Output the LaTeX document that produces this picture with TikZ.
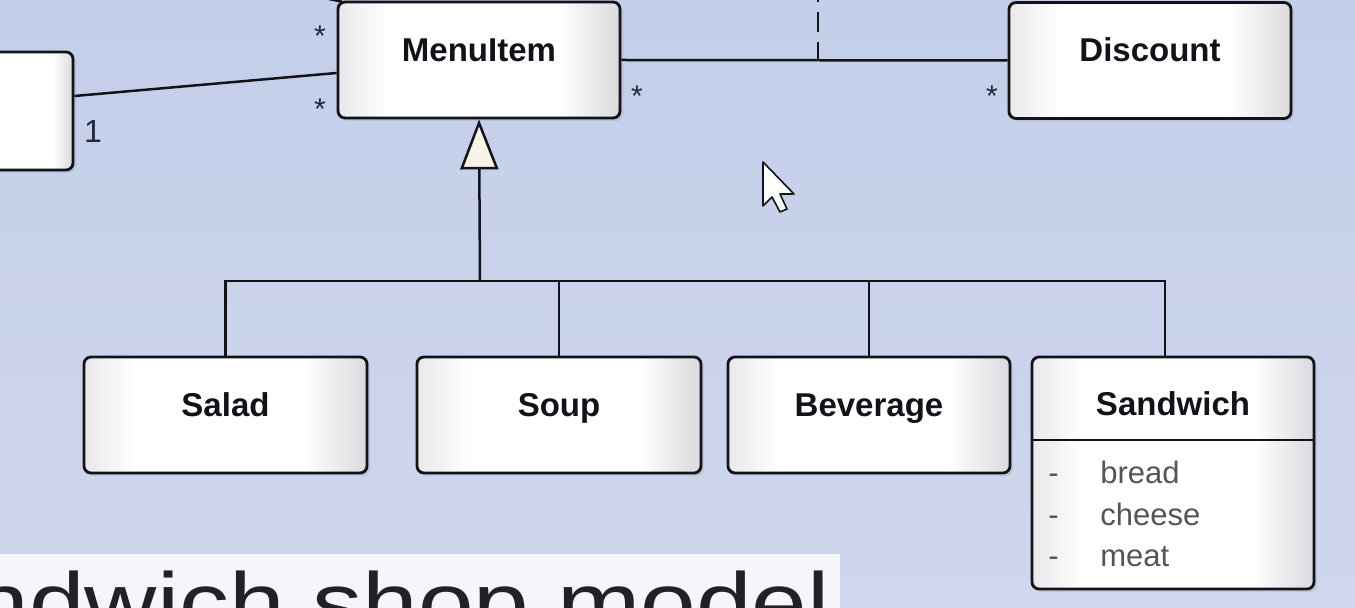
\documentclass[tikz,border=0pt]{standalone}
\usepackage{fontspec}
\setmainfont{Liberation Sans}
\usetikzlibrary{arrows.meta,shadows}
\definecolor{bgtop}{RGB}{195,206,233}
\definecolor{bgbot}{RGB}{207,215,236}
\definecolor{cream}{RGB}{250,243,232}
\definecolor{capbg}{RGB}{244,246,250}
\definecolor{capink}{RGB}{34,34,38}
\definecolor{ink}{RGB}{18,18,24}
\definecolor{mult}{RGB}{35,40,60}
\definecolor{attr}{RGB}{85,85,85}
\definecolor{boxl}{RGB}{232,232,234}
\definecolor{boxr}{RGB}{218,218,222}
\pgfdeclarehorizontalshading{boxshade}{100bp}{color(0bp)=(boxl); color(25bp)=(boxl); color(34bp)=(white); color(64bp)=(white); color(75bp)=(boxr); color(100bp)=(boxr)}
\begin{document}
\begin{tikzpicture}[x=0.5pt,y=-0.5pt,
  classbox/.style={draw=ink, line width=1.4pt, rounded corners=3.5pt,
    shading=boxshade,
    drop shadow={shadow xshift=1.5pt, shadow yshift=-1.5pt, opacity=0.18},
    minimum width=141pt, minimum height=58pt, inner sep=0pt,
    font=\fontsize{16.5}{20}\selectfont\bfseries, text=ink,
    text height=12pt, text depth=10.5pt},
  titletext/.style={font=\fontsize{16.5}{20}\selectfont\bfseries, text=ink, inner sep=0pt},
  attrtext/.style={font=\fontsize{15.5}{18}\selectfont, text=attr, inner sep=0pt},
  multtext/.style={font=\fontsize{15}{18}\selectfont, text=mult, inner sep=0pt, anchor=base},
  conn/.style={draw=ink, line width=1.25pt},
  dashconn/.style={draw=ink, line width=1.25pt, dash pattern=on 10pt off 5pt, dash phase=1pt}
]
\useasboundingbox (0,0) rectangle (1355,608);
\clip (0,0) rectangle (1355,608);
\shade[top color=bgtop, bottom color=bgbot] (0,0) rectangle (1355,608);

% classes
\node[classbox, minimum width=46.5pt, minimum height=59pt] (L) at (26.5,111) {};
\node[classbox] (mi) at (479,60) {MenuItem};
\node[classbox] (disc) at (1150,60.5) {Discount};
\node[classbox, minimum width=141.5pt] (salad) at (225.5,415) {Salad};
\node[classbox, minimum width=142pt] (soup) at (559,415) {Soup};
\node[classbox] (bev) at (869,415) {Beverage};
\node[classbox, minimum height=116pt] (snd) at (1173,473) {};
\node[titletext, anchor=base] (sndt) at (1173,416) {Sandwich};
\coordinate (divy) at (0,440);
\draw[draw=ink, line width=1.4pt] (snd.west |- divy) -- (snd.east |- divy);
\node[attrtext, anchor=base west] (d1) at (1048,484) {-};
\node[attrtext, anchor=base west] (d2) at (1048,526) {-};
\node[attrtext, anchor=base west] (d3) at (1048,567) {-};
\node[attrtext, anchor=base west] (a1) at (1100,484) {bread};
\node[attrtext, anchor=base west] (a2) at (1100,526) {cheese};
\node[attrtext, anchor=base west] (a3) at (1100,567) {meat};

% associations
\draw[conn] ([yshift=7.5pt]L.east) -- ([yshift=-6.5pt]mi.west);
\coordinate (tl) at (300,-7);
\draw[conn] (tl) -- ([xshift=2.5pt,yshift=-0.5pt]mi.north west);
\draw[conn] (mi.east) -- (disc.west);
\coordinate (amid) at (818,60);
\coordinate (dtop) at (818,-12);
\draw[dashconn] (amid) -- (dtop);

% multiplicities
\node[multtext] (m1) at (320,47) {*};
\node[multtext] (m2) at (320,120) {*};
\node[multtext] (m3) at (637,107) {*};
\node[multtext] (m4) at (992,107) {*};
\node[multtext, font=\fontsize{16}{19}\selectfont] (m5) at (93,143) {1};

% generalization
\coordinate (jn) at (480,281);
\draw[conn] (salad.north) |- (jn);
\draw[conn] (soup.north) |- (jn);
\draw[conn] (bev.north) |- (jn);
\draw[conn] ([xshift=-4pt]snd.north) |- (jn);
\draw[conn, -{Triangle[length=25pt,width=19pt,fill=cream]}] (jn) -- (mi.south);

% mouse pointer
\draw[fill=white, draw=ink, line width=0.8pt, line join=round]
  (763,162) -- (763,206) -- (772,197) -- (780,212) -- (787,209) -- (780,194) -- (794,194) -- cycle;

% caption
\fill[capbg] (0,554) rectangle (840,620);
\node[anchor=base west, inner sep=0pt, text=capink] (cap) at (-149,633)
  {\scalebox{1}[0.85]{\fontsize{50}{60}\selectfont Sandwich shop model}};
\end{tikzpicture}
\end{document}
